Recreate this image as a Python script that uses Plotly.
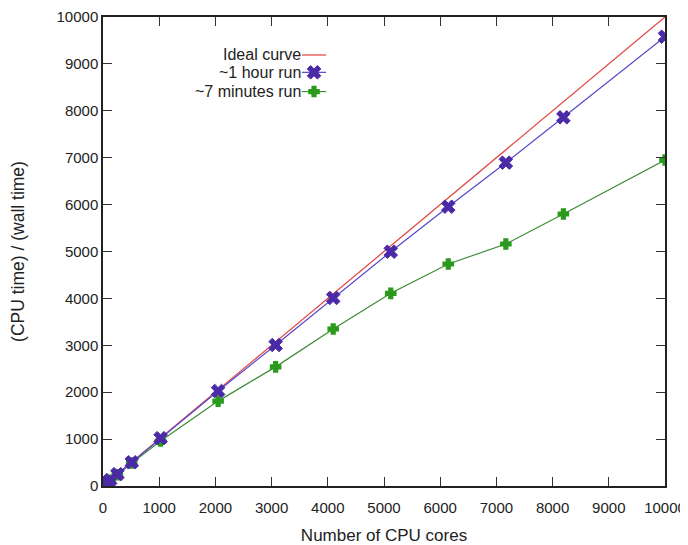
import plotly.graph_objects as go

cores = [16, 32, 64, 128, 256, 512, 1024, 2048, 3072, 4096, 5120, 6144, 7168, 8192, 10000]
hour_run = [16, 32, 64, 127, 252, 505, 1020, 2025, 3006, 4010, 4996, 5955, 6894, 7861, 9580]
min7_run = [16, 32, 63, 124, 240, 490, 960, 1810, 2540, 3348, 4108, 4733, 5160, 5800, 6950]
ideal_x = [0, 10000]
ideal_y = [0, 10000]
tick_vals = [0, 1000, 2000, 3000, 4000, 5000, 6000, 7000, 8000, 9000, 10000]
tick_text = [str(v) for v in tick_vals]
legend_names = ["Ideal curve", "~1 hour run", "~7 minutes run"]

RED = "#e2403a"
PURPLE_LINE = "#5548cc"
PURPLE_MK = "#4a2aa6"
GREEN_LINE = "#3c8c34"
GREEN_MK = "#2a9a1c"
FONT = "Liberation Sans, Arial"

mk_hour = dict(symbol="x", size=12, color=PURPLE_MK, line=dict(color=PURPLE_MK, width=1))
mk_min = dict(symbol="cross", size=8, color=GREEN_MK, line=dict(color=GREEN_MK, width=2))

fig = go.Figure()
fig.add_trace(go.Scatter(x=ideal_x, y=ideal_y, mode="lines",
                         line=dict(color=RED, width=1.2), showlegend=False))
fig.add_trace(go.Scatter(x=cores, y=min7_run, mode="lines+markers",
                         line=dict(color=GREEN_LINE, width=1.2), marker=mk_min,
                         showlegend=False))
fig.add_trace(go.Scatter(x=cores, y=hour_run, mode="lines+markers",
                         line=dict(color=PURPLE_LINE, width=1.2), marker=mk_hour,
                         showlegend=False))

# gnuplot-style key: text on left, sample on right
key_y = [0.919, 0.882, 0.841]
key_x0, key_x1 = 0.354, 0.397
styles = [
    (dict(color=RED, width=1.2), None),
    (dict(color=PURPLE_LINE, width=1.2), mk_hour),
    (dict(color=GREEN_LINE, width=1.2), mk_min),
]
for name, ky, (ln, mk) in zip(legend_names, key_y, styles):
    fig.add_trace(go.Scatter(x=[key_x0, key_x1], y=[ky, ky], mode="lines", line=ln,
                             xaxis="x2", yaxis="y2", showlegend=False, hoverinfo="skip"))
    if mk:
        fig.add_trace(go.Scatter(x=[(key_x0 + key_x1) / 2], y=[ky], mode="markers", marker=mk,
                                 xaxis="x2", yaxis="y2", showlegend=False, hoverinfo="skip"))
    fig.add_annotation(x=key_x0, y=ky, xref="x2", yref="y2", text=name, showarrow=False,
                       xanchor="right", yanchor="middle", xshift=1,
                       font=dict(family=FONT, size=16, color="#222"))

axis_common = dict(range=[0, 10000], tickvals=tick_vals, ticktext=tick_text,
                   ticks="inside", ticklen=9,
                   tickwidth=1.2, tickcolor="#333", showline=True, linecolor="#222",
                   linewidth=1.5, mirror="ticks", showgrid=False, zeroline=False,
                   tickfont=dict(family=FONT, size=15, color="#222"),
                   fixedrange=True, automargin=False)

# page body has an 8px default margin, so the figure is sized to fit the window
fig.update_layout(
    width=680, height=537,
    margin=dict(l=95, r=23, t=9, b=59),
    paper_bgcolor="white", plot_bgcolor="white",
    xaxis=dict(**axis_common, ticklabelstandoff=7,
               title=dict(text="Number of CPU cores", standoff=27,
                          font=dict(family=FONT, size=17, color="#222"))),
    yaxis=dict(**axis_common,
               title=dict(text="(CPU time) / (wall time)", standoff=28,
                          font=dict(family=FONT, size=17.5, color="#222"))),
    xaxis2=dict(range=[0, 1], overlaying="x", visible=False, fixedrange=True),
    yaxis2=dict(range=[0, 1], overlaying="y", visible=False, fixedrange=True),
    showlegend=False,
)

fig.write_html("out.html")
